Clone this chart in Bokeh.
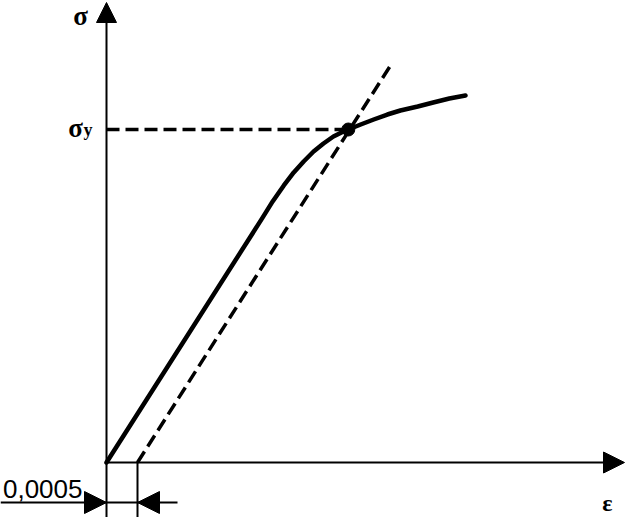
from bokeh.plotting import figure
from bokeh.models import Range1d, Arrow, NormalHead, Label
from bokeh.embed import file_html
from bokeh.resources import INLINE

# ---- data (strain, stress normalised to yield stress) ----
eps_curve = [0.0, 0.00252, 0.00268, 0.00286, 0.00302, 0.00318, 0.00334, 0.00350, 0.00366,
             0.00379, 0.00390, 0.00410, 0.00431, 0.00453, 0.00474, 0.00502, 0.00527, 0.00553, 0.00579]
sig_curve = [0.0, 0.736, 0.784, 0.832, 0.871, 0.904, 0.934, 0.958, 0.979,
             0.991, 1.000, 1.015, 1.030, 1.045, 1.057, 1.069, 1.081, 1.093, 1.102]
offset_eps = [0.0005, 0.00459]
offset_sig = [0.0, 1.195]
yield_eps = [0.00390]
yield_sig = [1.0]
offset_label = "0,0005"

# ---- layout helpers (page pixels -> data) ----
OX, OY = 106, 462          # origin on the page
SX, SY = 62000.0, 333.0    # pixels per data unit
W, H = 627, 517
def X(px):
    return (px - OX) / SX
def Y(py):
    return (OY - py) / SY

p = figure(width=W, height=H, min_border=0, toolbar_location=None,
           output_backend="svg", x_axis_type=None, y_axis_type=None,
           x_range=Range1d(X(0), X(W)), y_range=Range1d(Y(H), Y(0)))
p.grid.visible = False
p.outline_line_color = None
p.background_fill_color = "white"
p.border_fill_color = "white"

# axes with arrows
p.add_layout(Arrow(x_start=0, y_start=Y(530), x_end=0, y_end=Y(2),
                   line_width=2, line_color="black",
                   end=NormalHead(size=20, fill_color="black", line_color="black")))
p.add_layout(Arrow(x_start=0, y_start=0, x_end=X(624), y_end=0,
                   line_width=2, line_color="black",
                   end=NormalHead(size=21, fill_color="black", line_color="black")))

# dimension of the offset
p.segment(x0=[offset_eps[0]], y0=[0], x1=[offset_eps[0]], y1=[Y(530)], line_width=2, line_color="black")
p.segment(x0=[X(0)], y0=[Y(502)], x1=[X(177)], y1=[Y(502)], line_width=2, line_color="black")
p.add_layout(Arrow(x_start=X(60), y_start=Y(502), x_end=0, y_end=Y(502), line_width=0, line_alpha=0,
                   end=NormalHead(size=22, fill_color="black", line_color="black")))
p.add_layout(Arrow(x_start=X(170), y_start=Y(502), x_end=offset_eps[0], y_end=Y(502), line_width=0, line_alpha=0,
                   end=NormalHead(size=22, fill_color="black", line_color="black")))

# yield stress dashed horizontal
p.line([0, yield_eps[0]], [yield_sig[0], yield_sig[0]], line_width=3.5, line_color="black", line_dash="13 6")
# offset line
p.line(offset_eps, offset_sig, line_width=3.5, line_color="black", line_dash="13 6")
# stress-strain curve
p.line(eps_curve, sig_curve, line_width=4.5, line_color="black", line_join="round", line_cap="round")
# yield point
p.scatter(yield_eps, yield_sig, size=13, color="black")

serif = "Liberation Serif"
p.add_layout(Label(x=X(80), y=Y(15), text="σ", text_font=serif, text_font_style="bold",
                   text_font_size="27px", text_align="center", text_baseline="alphabetic", text_color="black"))
p.add_layout(Label(x=X(75), y=Y(127), text="σ", text_font=serif, text_font_style="bold",
                   text_font_size="27px", text_align="center", text_baseline="alphabetic", text_color="black"))
p.add_layout(Label(x=X(83), y=Y(129), text="y", text_font=serif, text_font_style="bold",
                   text_font_size="18px", text_align="left", text_baseline="alphabetic", text_color="black"))
p.add_layout(Label(x=X(607), y=Y(502), text="ε", text_font=serif, text_font_style="bold",
                   text_font_size="24px", text_align="center", text_baseline="alphabetic", text_color="black"))
p.add_layout(Label(x=X(82), y=Y(488), text=offset_label, text_font="Liberation Sans",
                   text_font_size="26px", text_align="right", text_baseline="alphabetic", text_color="black"))

open("out.html", "w").write(file_html(p, INLINE))
